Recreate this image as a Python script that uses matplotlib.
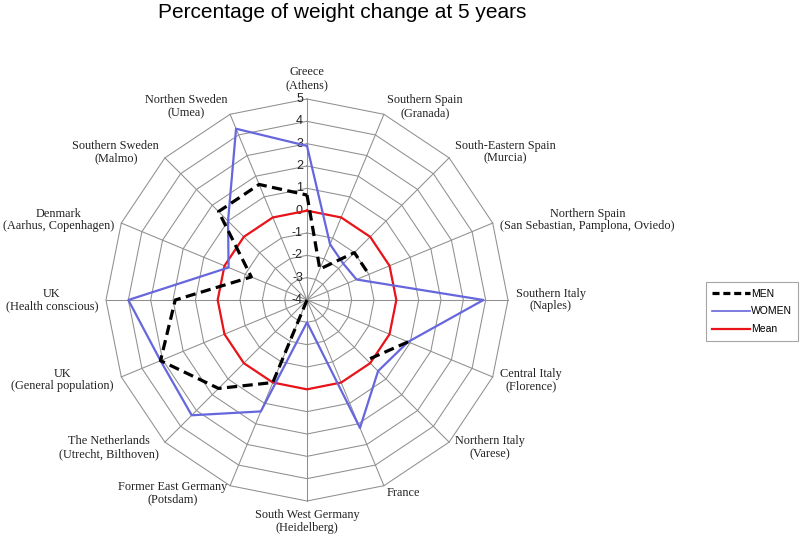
import numpy as np
import matplotlib
matplotlib.use("Agg")
import matplotlib.pyplot as plt
from matplotlib.lines import Line2D

# categories, clockwise from the top
categories = [
    "Greece\n(Athens)",
    "Southern Spain\n(Granada)",
    "South-Eastern Spain\n(Murcia)",
    "Northern Spain\n(San Sebastian, Pamplona, Oviedo)",
    "Southern Italy\n(Naples)",
    "Central Italy\n(Florence)",
    "Northern Italy\n(Varese)",
    "France",
    "South West Germany\n(Heidelberg)",
    "Former East Germany\n(Potsdam)",
    "The Netherlands\n(Utrecht, Bilthoven)",
    "UK\n(General population)",
    "UK\n(Health conscious)",
    "Denmark\n(Aarhus, Copenhagen)",
    "Southern Sweden\n(Malmo)",
    "Northen Sweden\n(Umea)",
]

nan = np.nan
men = [0.7, -2.5, -1.0, -1.0, nan, 0.9, -0.2, nan, -4.0, 0.0, 1.6, 3.1, 1.9, -1.3, 1.6, 1.6]
women = [2.9, -1.3, -1.7, -1.6, 3.9, 0.9, 0.5, 2.2, -3.0, 1.4, 3.3, 3.1, 4.0, -0.2, 1.0, 4.3]
mean = [0.0] * 16

ring_levels = [-4, -3, -2, -1, 0, 1, 2, 3, 4, 5]
r_min, r_max = -4, 5

n = len(categories)
theta = np.arange(n) * 2 * np.pi / n
theta_c = np.append(theta, theta[0])

def closed(vals):
    return np.append(vals, vals[0])

fig = plt.figure(figsize=(8, 5.4), dpi=100)
ax = fig.add_axes([106 / 800, 39 / 540, 402 / 800, 402 / 540], projection="polar")
ax.set_theta_zero_location("N")
ax.set_theta_direction(-1)
ax.set_ylim(r_min, r_max)
ax.grid(False)
ax.set_xticks([])
ax.set_yticks([])
ax.spines["polar"].set_visible(False)
ax.patch.set_alpha(0)

grid_kw = dict(color="#8f8f8f", lw=0.75, clip_on=False, zorder=1)
for lev in ring_levels[1:]:
    ax.plot(theta_c, [lev] * (n + 1), **grid_kw)
for t in theta:
    ax.plot([t, t], [r_min, r_max], **grid_kw)

# ring value labels along the top spoke
for lev in ring_levels:
    ax.annotate(str(lev), xy=(0, lev), xytext=(-4, 0), textcoords="offset pixels",
                ha="right", va="center", fontsize=9, family="Liberation Sans",
                color="#222222")

# category labels
for t, lab in zip(theta, categories):
    s, c = np.sin(t), np.cos(t)
    if abs(s) < 0.1:
        ha = "center"
        va = "bottom" if c > 0 else "top"
    else:
        ha = "left" if s > 0 else "right"
        va = "center"
    ax.annotate(lab, xy=(t, r_max), xytext=(8 * s, 8 * c), textcoords="offset pixels",
                ha=ha, va=va, multialignment="center", fontsize=8.8,
                family="Liberation Serif", color="#222222", linespacing=1.1)

ax.plot(theta_c, closed(mean), color="#e8141a", lw=1.6, clip_on=False, zorder=3)
ax.plot(theta_c, closed(women), color="#6666dd", lw=1.6, clip_on=False, zorder=4)
ax.plot(theta_c, closed(men), color="black", lw=2.3, dashes=(3.2, 1.7),
        dash_capstyle="butt", clip_on=False, zorder=5)

fig.text(342 / 800, 1 - 13 / 540, "Percentage of weight change at 5 years",
         ha="center", va="center", fontsize=15, family="Liberation Sans")

handles = [
    Line2D([], [], color="black", lw=2.3, dashes=(2.2, 1.2)),
    Line2D([], [], color="#6666dd", lw=1.2),
    Line2D([], [], color="#e8141a", lw=1.6),
]
leg = fig.legend(handles, ["MEN", "WOMEN", "Mean"], loc="center",
                 bbox_to_anchor=(752 / 800, 1 - 311.5 / 540),
                 prop={"family": "Liberation Sans", "size": 7.5},
                 frameon=True, fancybox=False, edgecolor="#8f8f8f",
                 handlelength=3.6, handletextpad=0.1, labelspacing=0.75,
                 borderpad=0.6, borderaxespad=0)
leg.get_frame().set_linewidth(0.8)

fig.savefig("out.png", dpi=100)
